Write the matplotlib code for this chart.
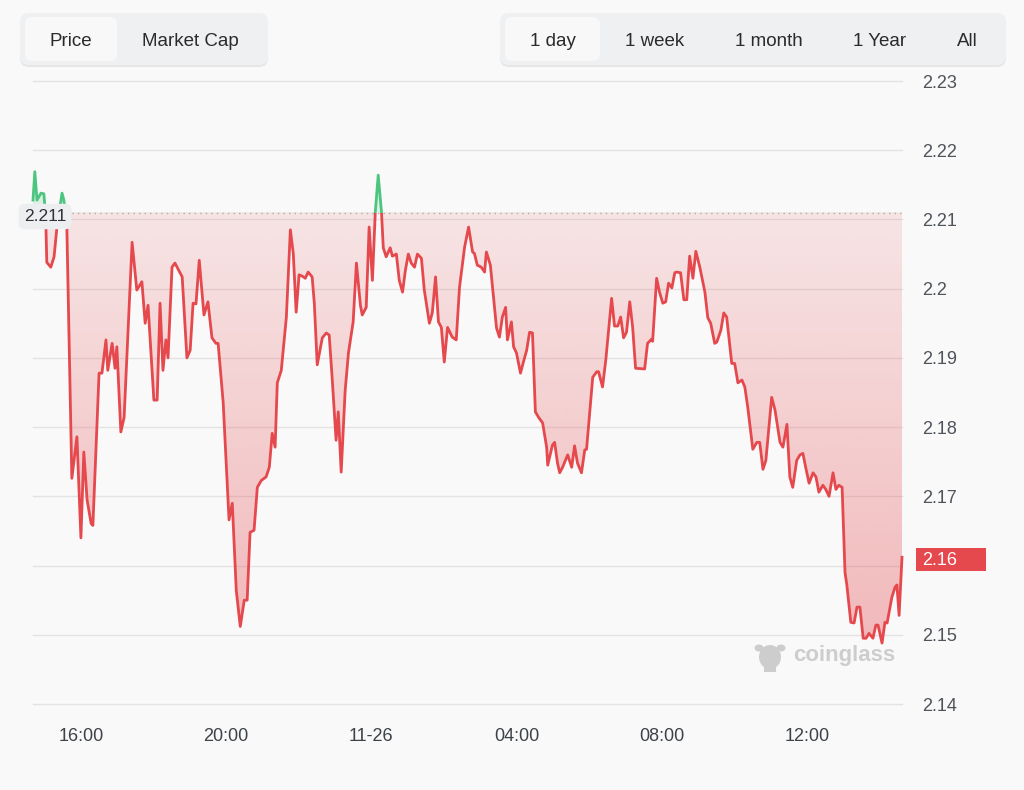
import numpy as np
import matplotlib.pyplot as plt
from matplotlib.colors import to_rgb
from matplotlib.patches import FancyBboxPatch, Rectangle, Ellipse, Polygon
from matplotlib.transforms import blended_transform_factory

plt.rcParams['font.family'] = ['Liberation Sans', 'DejaVu Sans']

# time in hours since 11-25 00:00 (24 = 11-26 00:00)
hours = [
    14.68, 14.73, 14.79, 14.90, 14.98, 15.03, 15.06, 15.17, 15.26, 15.34,
    15.48, 15.53, 15.61, 15.75, 15.89, 16.00, 16.08, 16.17, 16.28, 16.33,
    16.50, 16.58, 16.69, 16.74, 16.86, 16.94, 16.99, 17.10, 17.19, 17.41,
    17.54, 17.68, 17.77, 17.85, 18.01, 18.10, 18.18, 18.26, 18.34, 18.40,
    18.51, 18.59, 18.79, 18.92, 19.01, 19.09, 19.17, 19.26, 19.39, 19.50,
    19.61, 19.72, 19.78, 19.92, 20.08, 20.17, 20.28, 20.39, 20.50, 20.58,
    20.66, 20.77, 20.86, 20.97, 21.10, 21.19, 21.27, 21.35, 21.41, 21.52,
    21.66, 21.77, 21.85, 21.93, 22.01, 22.10, 22.18, 22.26, 22.37, 22.43,
    22.51, 22.65, 22.76, 22.84, 22.92, 23.03, 23.09, 23.17, 23.28, 23.37,
    23.50, 23.59, 23.70, 23.75, 23.86, 23.94, 24.03, 24.11, 24.19, 24.28,
    24.33, 24.41, 24.52, 24.58, 24.69, 24.77, 24.86, 24.94, 25.02, 25.10,
    25.19, 25.27, 25.38, 25.46, 25.60, 25.68, 25.77, 25.85, 25.93, 26.01,
    26.10, 26.23, 26.34, 26.43, 26.57, 26.68, 26.79, 26.84, 26.92, 27.03,
    27.12, 27.17, 27.28, 27.45, 27.53, 27.61, 27.70, 27.75, 27.86, 27.92,
    28.00, 28.11, 28.19, 28.28, 28.36, 28.44, 28.52, 28.61, 28.72, 28.83,
    28.86, 28.99, 29.05, 29.13, 29.19, 29.27, 29.41, 29.52, 29.60, 29.68,
    29.79, 29.88, 29.93, 30.10, 30.21, 30.26, 30.37, 30.46, 30.62, 30.70,
    30.79, 30.87, 30.95, 31.03, 31.12, 31.20, 31.28, 31.53, 31.61, 31.72,
    31.75, 31.86, 31.94, 32.03, 32.11, 32.19, 32.28, 32.36, 32.41, 32.52,
    32.61, 32.69, 32.77, 32.86, 32.94, 33.05, 33.19, 33.27, 33.35, 33.46,
    33.52, 33.63, 33.71, 33.79, 33.93, 34.01, 34.10, 34.21, 34.29, 34.37,
    34.51, 34.62, 34.70, 34.79, 34.87, 35.03, 35.12, 35.26, 35.34, 35.45,
    35.53, 35.61, 35.72, 35.81, 35.89, 35.97, 36.06, 36.17, 36.25, 36.33,
    36.44, 36.52, 36.61, 36.72, 36.80, 36.88, 36.97, 37.05, 37.10, 37.21,
    37.30, 37.38, 37.46, 37.55, 37.63, 37.71, 37.82, 37.90, 37.96, 38.07,
    38.15, 38.21, 38.34, 38.43, 38.48, 38.54, 38.62,
]
price = [
    2.2128, 2.2169, 2.2128, 2.2138, 2.2137, 2.2103, 2.2038, 2.2031, 2.2046, 2.2089,
    2.2138, 2.2128, 2.2095, 2.1726, 2.1786, 2.1640, 2.1764, 2.1695, 2.1661, 2.1658,
    2.1878, 2.1878, 2.1926, 2.1882, 2.1921, 2.1885, 2.1916, 2.1793, 2.1814, 2.2067,
    2.1998, 2.2010, 2.1950, 2.1976, 2.1839, 2.1839, 2.1979, 2.1882, 2.1926, 2.1900,
    2.2031, 2.2037, 2.2017, 2.1900, 2.1911, 2.1979, 2.1978, 2.2041, 2.1962, 2.1981,
    2.1929, 2.1921, 2.1921, 2.1835, 2.1666, 2.1690, 2.1564, 2.1512, 2.1550, 2.1550,
    2.1648, 2.1651, 2.1713, 2.1723, 2.1728, 2.1742, 2.1791, 2.1771, 2.1864, 2.1882,
    2.1959, 2.2085, 2.2051, 2.1966, 2.2020, 2.2018, 2.2015, 2.2024, 2.2017, 2.1979,
    2.1890, 2.1929, 2.1936, 2.1933, 2.1872, 2.1781, 2.1822, 2.1735, 2.1853, 2.1907,
    2.1952, 2.2037, 2.1976, 2.1962, 2.1973, 2.2089, 2.2012, 2.2111, 2.2164, 2.2111,
    2.2059, 2.2046, 2.2059, 2.2047, 2.2050, 2.2012, 2.1995, 2.2027, 2.2050, 2.2037,
    2.2031, 2.2050, 2.2044, 2.1998, 2.1950, 2.1965, 2.2017, 2.1952, 2.1944, 2.1894,
    2.1944, 2.1930, 2.1926, 2.2002, 2.2060, 2.2089, 2.2053, 2.2051, 2.2034, 2.2031,
    2.2024, 2.2053, 2.2034, 2.1943, 2.1930, 2.1959, 2.1973, 2.1926, 2.1952, 2.1916,
    2.1907, 2.1878, 2.1894, 2.1911, 2.1937, 2.1936, 2.1822, 2.1814, 2.1806, 2.1771,
    2.1745, 2.1774, 2.1778, 2.1748, 2.1734, 2.1742, 2.1760, 2.1742, 2.1773, 2.1748,
    2.1734, 2.1767, 2.1768, 2.1872, 2.1880, 2.1880, 2.1858, 2.1897, 2.1986, 2.1946,
    2.1946, 2.1959, 2.1929, 2.1937, 2.1981, 2.1944, 2.1885, 2.1884, 2.1921, 2.1927,
    2.1924, 2.2015, 2.1995, 2.1979, 2.1981, 2.2008, 2.2001, 2.2023, 2.2024, 2.2023,
    2.1984, 2.1984, 2.2047, 2.2015, 2.2054, 2.2031, 2.1995, 2.1958, 2.1950, 2.1921,
    2.1923, 2.1940, 2.1965, 2.1959, 2.1892, 2.1892, 2.1864, 2.1868, 2.1858, 2.1829,
    2.1768, 2.1778, 2.1778, 2.1739, 2.1752, 2.1843, 2.1825, 2.1778, 2.1771, 2.1804,
    2.1728, 2.1713, 2.1752, 2.1760, 2.1762, 2.1741, 2.1719, 2.1734, 2.1728, 2.1706,
    2.1716, 2.1710, 2.1700, 2.1734, 2.1710, 2.1716, 2.1713, 2.1590, 2.1572, 2.1518,
    2.1517, 2.1540, 2.1540, 2.1495, 2.1495, 2.1502, 2.1495, 2.1514, 2.1514, 2.1488,
    2.1518, 2.1517, 2.1554, 2.1569, 2.1572, 2.1528, 2.1612,
]
open_price = 2.211

x_ticks = [16, 20, 24, 28, 32, 36]
x_labels = ["16:00", "20:00", "11-26", "04:00", "08:00", "12:00"]
y_ticks = [2.14, 2.15, 2.16, 2.17, 2.18, 2.19, 2.2, 2.21, 2.22, 2.23]

chart_buttons = ["Price", "Market Cap"]
range_buttons = ["1 day", "1 week", "1 month", "1 Year", "All"]

W, H = 1024, 790
bg = "#f9f9f9"
red = "#e5484d"
green = "#4cc57f"

fig = plt.figure(figsize=(W / 100, H / 100), dpi=100, facecolor=bg)

# pixel-space layer for buttons and watermark
deco = fig.add_axes([0, 0, 1, 1], zorder=0)
deco.set_xlim(0, W)
deco.set_ylim(H, 0)
deco.axis("off")


def pill(x0, x1, y0, y1, fc, r=9):
    deco.add_patch(FancyBboxPatch((x0, y0), x1 - x0, y1 - y0,
                                  boxstyle=f"round,pad=0,rounding_size={r}",
                                  fc=fc, ec="none"))


# Price / Market Cap
pill(20, 268, 15, 67, "#e5e6e8")
pill(20, 268, 13, 65, "#eff0f2")
pill(25, 117, 17, 61, "#f8f8f9", r=7)
for label, cx in zip(chart_buttons, [71, 190]):
    deco.text(cx, 42, label, ha="center", va="center", fontsize=13.5, color="#2b2b2b")

# range selector
pill(500, 1006, 15, 67, "#e5e6e8")
pill(500, 1006, 13, 65, "#eff0f2")
pill(505, 600, 17, 61, "#f8f8f9", r=7)
for label, cx in zip(range_buttons, [553, 655, 769, 880, 967]):
    deco.text(cx, 42, label, ha="center", va="center", fontsize=13.5, color="#2b2b2b")

# coinglass watermark
wm = "#cdcdcd"
deco.add_patch(Ellipse((770, 657), 22, 24, fc=wm, ec="none"))
deco.add_patch(Ellipse((759, 648), 9, 7, fc=wm, ec="none"))
deco.add_patch(Ellipse((781, 648), 9, 7, fc=wm, ec="none"))
deco.add_patch(Rectangle((764, 664), 12, 8, fc=wm, ec="none"))
deco.text(844, 656, "coinglass", ha="center", va="center", fontsize=16,
          fontweight="bold", color=wm)

# main chart
ax = fig.add_axes([33 / W, 86 / H, 869 / W, 623 / H], zorder=1)
ax.set_facecolor("none")

t = np.array(hours)
p = np.array(price)

# area between price and open price, used to clip the gradients
area = Polygon(np.column_stack([np.r_[t, t[-1], t[0]],
                                np.r_[p, open_price, open_price]]),
               closed=True, transform=ax.transData)

n = 256
red_img = np.zeros((n, 1, 4))
red_img[..., :3] = to_rgb(red)
red_img[:, 0, 3] = np.linspace(0.40, 0.12, n)
im = ax.imshow(red_img, extent=[t[0], t[-1], 2.14, open_price], origin="lower",
               aspect="auto", interpolation="bilinear", zorder=1)
im.set_clip_path(area)

green_img = np.zeros((n, 1, 4))
green_img[..., :3] = to_rgb(green)
green_img[:, 0, 3] = np.linspace(0.15, 0.35, n)
im2 = ax.imshow(green_img, extent=[t[0], t[-1], open_price, 2.23], origin="lower",
                aspect="auto", interpolation="bilinear", zorder=1)
im2.set_clip_path(area)

# line: red below open price, green above
below = Rectangle((t[0] - 1, 2.10), t[-1] - t[0] + 2, open_price - 2.10, transform=ax.transData)
above = Rectangle((t[0] - 1, open_price), t[-1] - t[0] + 2, 0.2, transform=ax.transData)
l1, = ax.plot(t, p, color=red, lw=2.0, zorder=3, solid_joinstyle="round")
l1.set_clip_path(below)
l2, = ax.plot(t, p, color=green, lw=2.0, zorder=3, solid_joinstyle="round")
l2.set_clip_path(above)

ax.axhline(open_price, color="#bba5a7", lw=1, ls=(0, (1, 3)), zorder=2)

for yv in y_ticks:
    ax.axhline(yv, color="#e3e3e3", lw=1, zorder=0, clip_on=False)

ax.set_xlim(t[0], t[-1])
ax.set_ylim(2.14, 2.23)

ax.set_xticks(x_ticks)
ax.set_xticklabels(x_labels)
ax.set_yticks(y_ticks)
ax.set_yticklabels([f"{v:g}" for v in y_ticks])
ax.yaxis.tick_right()
ax.tick_params(axis="y", length=0, pad=14.5, labelsize=13, labelcolor="#4f545a")
ax.tick_params(axis="x", length=0, pad=17, labelsize=13, labelcolor="#3d4248")
for s in ax.spines.values():
    s.set_visible(False)

# the last price tag replaces the tick label it sits on
for v, lab in zip(y_ticks, ax.get_yticklabels()):
    if abs(v - p[-1]) < 0.003:
        lab.set_visible(False)

# open price tag on the left
ax.annotate(f"{open_price}", xy=(t[0], open_price), xytext=(12, -4),
            textcoords="offset pixels", ha="center", va="center", fontsize=12.5,
            color="#2f3236", zorder=8, annotation_clip=False,
            bbox=dict(boxstyle="round,pad=0.3,rounding_size=0.35", fc="#eceef0", ec="none"))

# last price tag on the right
trans = blended_transform_factory(ax.transAxes, ax.transData)
ax.add_patch(FancyBboxPatch((1.0 + 14 / 869, p[-1] - 0.00205), 70 / 869, 0.0034,
                            boxstyle="square,pad=0", transform=trans,
                            fc=red, ec="none", clip_on=False, zorder=10))
ax.annotate(f"{p[-1]:.2f}", xy=(1, p[-1]), xycoords=trans, xytext=(20, -3),
            textcoords="offset pixels", ha="left", va="center", fontsize=13,
            color="white", zorder=11, annotation_clip=False)

fig.savefig("out.png", dpi=100, facecolor=bg)
